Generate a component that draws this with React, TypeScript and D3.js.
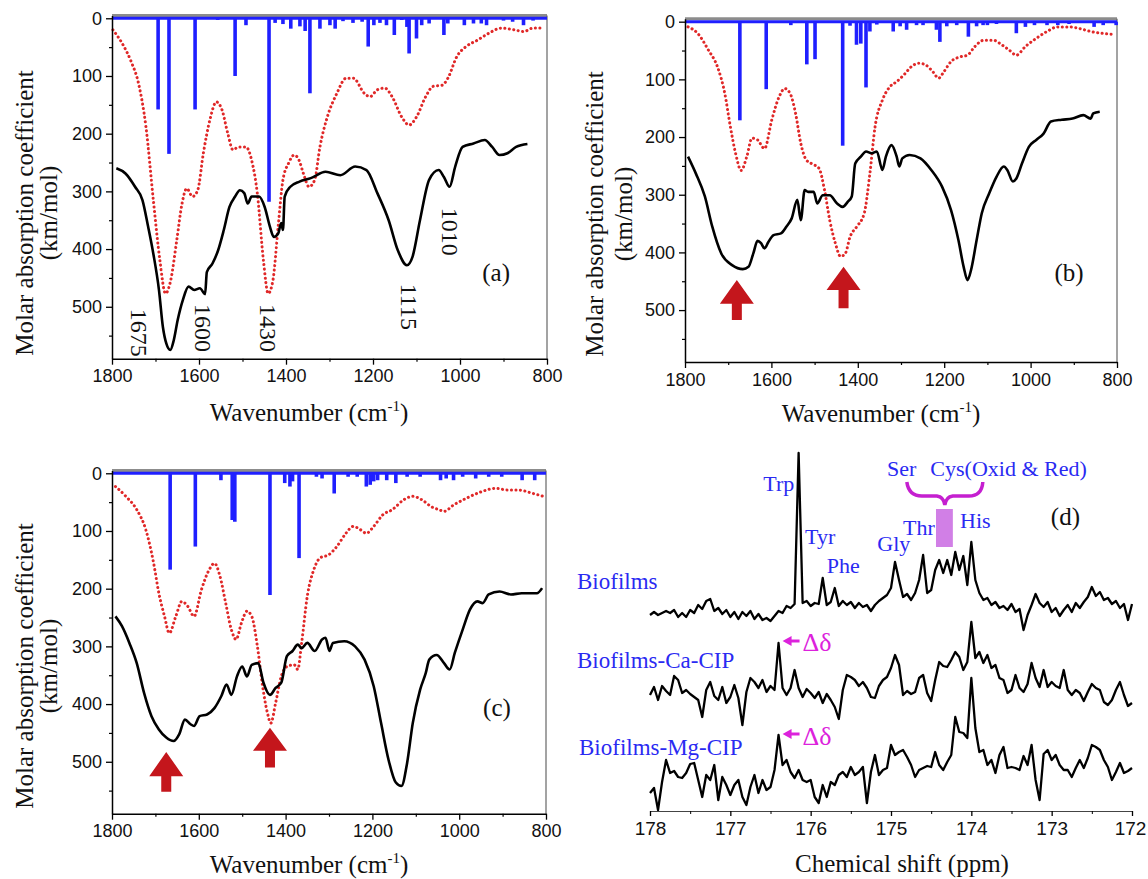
import { useEffect, useRef } from 'react';
import * as d3 from 'd3';

type Pt = [number, number];

// ---------- IR panel (a) : [wavenumber, km/mol] ----------
const aBlack: Pt[] = [[1790,260],[1769,269],[1747,292],[1730,315],[1717,361],[1705,408],[1692,471],[1683,535],[1675,564],[1666,575],[1658,558],[1649,523],[1637,488],[1624,465],[1611,471],[1598,468],[1586,478],[1582,440],[1569,425],[1556,402],[1543,367],[1530,327],[1517,309],[1506,298],[1496,303],[1488,321],[1479,309],[1462,309],[1449,327],[1437,361],[1428,379],[1418,373],[1411,355],[1407,367],[1403,309],[1390,292],[1369,283],[1343,277],[1309,266],[1275,272],[1241,257],[1215,263],[1190,303],[1164,350],[1143,402],[1122,428],[1109,413],[1092,350],[1071,280],[1049,263],[1037,275],[1024,292],[1011,257],[994,223],[969,217],[943,211],[926,223],[909,237],[891,234],[871,223],[845,218]];
const aRed: Pt[] = [[1798,20],[1777,43],[1756,75],[1739,113],[1722,188],[1705,315],[1690,419],[1677,477],[1665,454],[1651,384],[1639,321],[1628,295],[1615,309],[1603,298],[1590,234],[1575,176],[1560,145],[1547,159],[1534,199],[1522,228],[1509,223],[1492,223],[1479,246],[1466,303],[1452,419],[1441,477],[1430,454],[1418,361],[1407,280],[1394,251],[1381,237],[1370,246],[1360,269],[1347,292],[1334,280],[1322,223],[1305,171],[1283,130],[1262,104],[1245,104],[1220,130],[1207,136],[1190,124],[1173,121],[1156,136],[1134,171],[1117,185],[1100,171],[1079,136],[1062,118],[1041,116],[1028,104],[1007,66],[986,49],[960,38],[934,26],[905,17],[875,20],[854,23],[832,17],[807,17]];
const aSticks: Pt[] = [[1694,158],[1669,235],[1609,158],[1557,3],[1517,100],[1492,12],[1439,318],[1425,8],[1407,10],[1389,18],[1368,14],[1356,22],[1345,130],[1322,18],[1299,12],[1287,18],[1269,5],[1246,8],[1225,6],[1211,49],[1198,12],[1184,8],[1169,12],[1151,29],[1134,3],[1122,15],[1117,61],[1100,35],[1088,12],[1071,9],[1037,29],[1028,9],[990,12],[969,9],[951,9],[939,12],[900,4],[879,6],[854,12],[832,4]];
const aPeakLabels = ['1675', '1600', '1430', '1115', '1010'];
const aPeakSpots: Pt[] = [[1738,545],[1591,537],[1441,537],[1117,500],[1021,370]];

// ---------- IR panel (b) ----------
const bBlack: Pt[] = [[1793,234],[1775,263],[1754,303],[1737,355],[1716,402],[1691,422],[1666,429],[1653,425],[1642,402],[1632,380],[1624,384],[1616,393],[1607,382],[1595,370],[1578,367],[1565,355],[1553,341],[1540,309],[1532,344],[1523,292],[1515,295],[1502,295],[1494,315],[1481,301],[1465,301],[1448,315],[1435,321],[1423,312],[1414,303],[1406,246],[1393,234],[1381,225],[1368,228],[1356,225],[1343,257],[1335,234],[1322,214],[1310,234],[1304,251],[1297,237],[1280,231],[1255,237],[1230,257],[1205,286],[1184,327],[1167,379],[1155,425],[1146,448],[1138,431],[1125,379],[1113,332],[1096,298],[1079,269],[1062,251],[1054,257],[1041,277],[1033,272],[1020,246],[1004,217],[987,205],[970,194],[953,173],[928,170],[903,168],[878,162],[861,168],[855,159],[840,156]];
const bRed: Pt[] = [[1793,9],[1771,20],[1746,49],[1725,78],[1708,124],[1695,182],[1683,228],[1670,258],[1657,234],[1645,202],[1632,205],[1616,220],[1599,170],[1582,130],[1569,116],[1557,124],[1544,159],[1532,211],[1519,240],[1507,246],[1490,254],[1477,292],[1465,344],[1452,384],[1440,407],[1429,402],[1418,373],[1402,355],[1385,332],[1372,263],[1360,182],[1343,136],[1326,113],[1310,104],[1293,92],[1276,78],[1259,72],[1243,75],[1226,87],[1213,98],[1201,87],[1184,69],[1163,61],[1146,58],[1129,43],[1108,32],[1087,32],[1067,40],[1050,49],[1033,58],[1012,43],[987,29],[962,17],[937,9],[911,9],[886,12],[861,17],[836,20],[807,22]];
const bSticks: Pt[] = [[1673,171],[1612,117],[1555,6],[1518,74],[1499,65],[1435,215],[1418,7],[1403,40],[1393,38],[1381,114],[1372,17],[1356,5],[1318,17],[1302,8],[1287,14],[1264,6],[1249,6],[1218,14],[1210,35],[1194,8],[1171,6],[1144,26],[1125,8],[1110,6],[1100,6],[1079,4],[1033,20],[1012,9],[991,6],[962,6],[937,6],[911,4],[853,9],[832,6],[802,6]];
// arrows: [wavenumber, tip, head base, tail]
const bArrows: number[][] = [[1680,448,489,517],[1433,425,465,497]];

// ---------- IR panel (c) ----------
const cBlack: Pt[] = [[1792,248],[1777,265],[1760,294],[1743,329],[1726,381],[1709,421],[1692,444],[1675,458],[1658,464],[1645,452],[1632,427],[1619,435],[1611,438],[1598,421],[1581,418],[1564,407],[1548,386],[1536,366],[1525,384],[1512,352],[1500,335],[1489,352],[1478,332],[1463,329],[1451,363],[1436,384],[1423,372],[1410,363],[1397,317],[1384,308],[1372,297],[1363,303],[1350,294],[1333,308],[1316,288],[1308,285],[1299,308],[1291,294],[1265,291],[1240,300],[1218,323],[1197,369],[1180,433],[1163,496],[1146,536],[1133,542],[1120,502],[1107,433],[1090,375],[1077,346],[1069,323],[1052,315],[1035,329],[1022,340],[1010,311],[992,271],[975,236],[958,222],[946,225],[932,210],[907,205],[881,210],[856,208],[821,208],[809,199]];
const cRed: Pt[] = [[1792,23],[1768,40],[1743,63],[1722,98],[1704,156],[1692,208],[1679,248],[1668,277],[1653,248],[1639,222],[1625,231],[1611,248],[1594,202],[1576,167],[1564,156],[1551,179],[1538,225],[1525,271],[1514,288],[1502,260],[1489,239],[1478,248],[1465,300],[1453,369],[1442,415],[1434,433],[1423,398],[1410,352],[1397,335],[1380,332],[1372,340],[1363,294],[1350,213],[1335,167],[1321,147],[1300,141],[1282,127],[1261,104],[1244,92],[1227,98],[1214,104],[1197,92],[1176,72],[1154,63],[1128,46],[1107,40],[1086,46],[1064,58],[1047,63],[1035,66],[1013,55],[983,43],[949,32],[915,26],[890,29],[864,29],[830,35],[806,40]];
const cSticks: Pt[] = [[1666,167],[1608,127],[1549,12],[1523,81],[1517,84],[1436,211],[1402,17],[1390,23],[1384,14],[1369,147],[1329,6],[1316,9],[1288,35],[1256,6],[1235,6],[1214,23],[1205,20],[1197,14],[1188,12],[1167,12],[1146,17],[1120,6],[1090,6],[1043,12],[1030,9],[1013,12],[992,6],[962,9],[932,6],[902,6],[855,12],[826,12]];
const cArrows: number[][] = [[1675,483,525,552],[1436,441,481,510]];

const irTicks = [1800, 1600, 1400, 1200, 1000, 800];
const irMinor = [1700, 1500, 1300, 1100, 900];
const kmTicks = [0, 100, 200, 300, 400, 500];
const kmMinor = [50, 150, 250, 350, 450, 550];

// ---------- 13C NMR panel (d) : intensities (a.u.) sampled every 0.05 ppm from 178 ----------
const nmrPpm = d3.range(121).map(i => +(178 - i * 0.05).toFixed(2));
const biofilms = [0,3,0,2,4,2,5,-2,2,-2, 5,2,10,6,14,16,4,7,1,5, -2,3,-4,3,-1,4,-4,1,-5,-3, -6,-1,4,2,9,7,11,162,12,14, 9,12,11,37,10,13,27,9,14,10, 13,7,12,8,10,4,10,14,17,20, 27,53,35,18,21,15,22,35,60,22, 25,45,55,42,55,40,63,45,59,30, 73,35,22,15,17,10,13,7,9,5, 11,3,6,-15,0,10,21,12,8,13, 3,7,-1,5,10,3,12,7,13,18, 28,19,23,15,17,11,14,7,11,-5, 11];
const biofilmsCa = [-5,3,-10,4,-1,-5,14,10,-3,0, -4,-7,-10,-27,0,8,-6,-10,3,-13, -7,5,-8,-35,-2,12,8,2,10,-2, 4,0,47,2,-5,2,20,2,-7,1, -3,-8,-2,-13,-4,-10,-17,-29,0,15, 13,10,4,8,2,-7,-8,4,10,13, 22,35,25,-5,-1,-4,-2,12,15,-3, -11,10,28,24,23,30,38,33,20,28, 68,32,38,27,35,22,25,12,10,-3, 0,15,2,-2,6,27,12,3,20,3, 8,4,2,20,0,-5,0,-3,-11,-2, 6,2,0,-12,-15,-10,0,8,-5,-16, -13];
const biofilmsMg = [-20,-15,-37,-9,13,0,2,-4,-5,0, 9,10,-7,-24,-2,-7,8,-27,-4,-12, -22,-12,-7,-24,-32,-14,-2,-20,-7,-17, -14,3,38,8,13,1,-5,3,-7,-9, -7,-24,-30,-12,-24,-9,-12,-2,1,-4, 6,-2,1,6,-30,1,18,-2,3,5, 28,18,21,23,16,8,-4,3,5,7, 6,21,8,3,11,18,56,41,40,35, 95,45,21,23,8,13,0,18,26,5, 6,5,3,17,8,28,-7,-27,19,23, 13,18,8,3,3,-4,5,13,5,15, 28,26,23,13,6,-7,1,10,0,2, 5];
const nmrNames = ['Biofilms', 'Biofilms-Ca-CIP', 'Biofilms-Mg-CIP'];
const nmrSeries = [biofilms, biofilmsCa, biofilmsMg];
const nmrStackOffset = [158, 83, 0];
const ppmTicks = [178, 177, 176, 175, 174, 173, 172];
const ppmMinor = [177.5, 176.5, 175.5, 174.5, 173.5, 172.5];
const aminoAcids = ['Trp', 'Tyr', 'Phe', 'Gly', 'Thr', 'His', 'Ser', 'Cys(Oxid & Red)'];
const aminoPpm = [176.59, 176.07, 175.8, 175.17, 174.85, 174.14, 175.05, 174.51];

const SERIF = '"Liberation Serif", "Times New Roman", serif';
const SANS = '"Liberation Sans", Arial, sans-serif';
const BLUE = '#1f1fff';
const LABEL_BLUE = '#2a2af2';
const MAGENTA = '#dc22dc';

function styleAxis(sel, size) {
  sel.attr('font-family', SANS).attr('font-size', size);
  sel.select('.domain').attr('stroke', '#000').attr('stroke-width', 1.5);
  sel.selectAll('.tick line').attr('stroke', '#000').attr('stroke-width', 1.3);
  sel.selectAll('.tick text').attr('fill', '#111');
}

function drawIR(svg, cfg) {
  const x = d3.scaleLinear().domain([1800, 800]).range([cfg.left, cfg.right]);
  const y = d3.scaleLinear().domain([-5, 590]).range([cfg.top, cfg.bottom]);
  const g = svg.append('g');
  const line = d3.line<Pt>().x(d => x(d[0])).y(d => y(d[1])).curve(d3.curveMonotoneX);

  // DFT spectrum (red dots)
  g.append('path')
    .datum(cfg.red)
    .attr('d', line)
    .attr('fill', 'none')
    .attr('stroke', '#e02828')
    .attr('stroke-width', 3)
    .attr('stroke-linecap', 'round')
    .attr('stroke-dasharray', '0.1 4.4');

  // measured spectrum
  g.append('path')
    .datum(cfg.black)
    .attr('d', line)
    .attr('fill', 'none')
    .attr('stroke', '#000')
    .attr('stroke-width', 2.6)
    .attr('stroke-linejoin', 'round');

  // frame top + right
  g.append('line')
    .attr('x1', x(1800)).attr('x2', x(800))
    .attr('y1', y(-5)).attr('y2', y(-5))
    .attr('stroke', '#8c8c8c').attr('stroke-width', 3);
  g.append('line')
    .attr('x1', x(800)).attr('x2', x(800))
    .attr('y1', y(-5)).attr('y2', y(590))
    .attr('stroke', '#666').attr('stroke-width', 1.2);

  // stick spectrum
  g.append('line')
    .attr('x1', x(1800)).attr('x2', x(800))
    .attr('y1', y(0)).attr('y2', y(0))
    .attr('stroke', BLUE).attr('stroke-width', 3);
  g.selectAll('.stick')
    .data(cfg.sticks)
    .join('line')
    .attr('x1', d => x(d[0])).attr('x2', d => x(d[0]))
    .attr('y1', y(0)).attr('y2', d => y(d[1]))
    .attr('stroke', BLUE).attr('stroke-width', 3.6);

  // red arrows
  (cfg.arrows || []).forEach(a => {
    const cx = x(a[0]);
    const pts = [
      [cx, y(a[1])], [cx + 17, y(a[2])], [cx + 5, y(a[2])], [cx + 5, y(a[3])],
      [cx - 5, y(a[3])], [cx - 5, y(a[2])], [cx - 17, y(a[2])],
    ];
    g.append('polygon').attr('points', pts.map(p => p.join(',')).join(' ')).attr('fill', '#c4161c');
  });

  // axes
  const ya = g.append('g').attr('transform', `translate(${cfg.left},0)`)
    .call(d3.axisLeft(y).tickValues(kmTicks).tickFormat(d3.format('d')).tickSize(6).tickSizeOuter(0).tickPadding(4));
  styleAxis(ya, 18);
  const ym = g.append('g').attr('transform', `translate(${cfg.left},0)`)
    .call(d3.axisLeft(y).tickValues(kmMinor).tickSize(3).tickFormat(() => ''));
  ym.select('.domain').remove();
  ym.selectAll('.tick line').attr('stroke', '#000').attr('stroke-width', 1.2);

  const xa = g.append('g').attr('transform', `translate(0,${cfg.bottom})`)
    .call(d3.axisBottom(x).tickValues(irTicks).tickFormat(d3.format('d')).tickSize(6).tickSizeOuter(0).tickPadding(5));
  styleAxis(xa, 18);
  const xm = g.append('g').attr('transform', `translate(0,${cfg.bottom})`)
    .call(d3.axisBottom(x).tickValues(irMinor).tickSize(3).tickFormat(() => ''));
  xm.select('.domain').remove();
  xm.selectAll('.tick line').attr('stroke', '#000').attr('stroke-width', 1.2);

  // titles
  const t = g.append('text')
    .attr('x', cfg.titleX).attr('y', cfg.titleY)
    .attr('text-anchor', 'middle')
    .attr('font-family', SERIF).attr('font-size', 25).attr('fill', '#111');
  t.append('tspan').text('Wavenumber (cm');
  t.append('tspan').attr('font-size', 15).attr('dy', -10).text('-1');
  t.append('tspan').attr('dy', 10).text(')');

  ['Molar absorption coefficient', '(km/mol)'].forEach((s, i) => {
    g.append('text')
      .attr('transform', `translate(${cfg.ylabX[i]},${cfg.ylabY}) rotate(-90)`)
      .attr('text-anchor', 'middle').attr('dy', '0.35em')
      .attr('font-family', SERIF).attr('font-size', 25).attr('fill', '#111')
      .text(s);
  });

  g.append('text')
    .attr('x', x(cfg.tagAt[0])).attr('y', y(cfg.tagAt[1]))
    .attr('text-anchor', 'middle').attr('dy', '0.35em')
    .attr('font-family', SERIF).attr('font-size', 25).attr('fill', '#111')
    .text(cfg.tag);

  (cfg.peakLabels || []).forEach((s, i) => {
    const [wn, v] = cfg.peakSpots[i];
    g.append('text')
      .attr('transform', `translate(${x(wn)},${y(v)}) rotate(90)`)
      .attr('text-anchor', 'middle').attr('dy', '0.35em')
      .attr('font-family', SERIF).attr('font-size', 24).attr('fill', '#111')
      .text(s);
  });
}

function drawNMR(svg) {
  const x = d3.scaleLinear().domain([178, 172]).range([650, 1132]);
  const y = d3.scaleLinear().domain([0, 100]).range([773, 673]);
  const g = svg.append('g');

  nmrSeries.forEach((vals, k) => {
    const line = d3.line<number>()
      .x((d, i) => x(nmrPpm[i]))
      .y(d => y(d + nmrStackOffset[k]));
    g.append('path')
      .datum(vals)
      .attr('d', line)
      .attr('fill', 'none')
      .attr('stroke', '#000')
      .attr('stroke-width', 2.3)
      .attr('stroke-linejoin', 'round');
  });

  const xa = g.append('g').attr('transform', 'translate(0,811)')
    .call(d3.axisBottom(x).tickValues(ppmTicks).tickFormat(d3.format('d')).tickSize(5).tickSizeOuter(0).tickPadding(6));
  styleAxis(xa, 19);
  xa.select('.domain').attr('stroke', '#444').attr('stroke-width', 1.2);
  xa.selectAll('.tick text').filter(d => d === 172).attr('dx', -2);
  const xm = g.append('g').attr('transform', 'translate(0,811)')
    .call(d3.axisBottom(x).tickValues(ppmMinor).tickSize(3).tickFormat(() => ''));
  xm.select('.domain').remove();
  xm.selectAll('.tick line').attr('stroke', '#000');

  g.append('text')
    .attr('x', 902).attr('y', 872)
    .attr('text-anchor', 'middle')
    .attr('font-family', SERIF).attr('font-size', 25).attr('fill', '#111')
    .text('Chemical shift (ppm)');

  // sample names
  [[577, 589], [577, 668], [579, 755]].forEach((p, i) => {
    g.append('text').attr('x', p[0]).attr('y', p[1])
      .attr('font-family', SERIF).attr('font-size', 23).attr('fill', LABEL_BLUE)
      .text(nmrNames[i]);
  });

  // amino-acid assignments
  const aaBaseline = [491, 544, 573, 551, 535, 528, 476, 476];
  aminoAcids.forEach((s, i) => {
    g.append('text').attr('x', x(aminoPpm[i])).attr('y', aaBaseline[i])
      .attr('font-family', SERIF).attr('font-size', 22).attr('fill', LABEL_BLUE)
      .text(s);
  });

  // brace + box for Ser / Cys
  const bx = x(174.33);
  g.append('path')
    .attr('d', `M${bx - 38},482 Q${bx - 36},496 ${bx - 23},496 L${bx - 8},496 Q${bx - 1},497 ${bx},505 Q${bx + 1},497 ${bx + 8},496 L${bx + 24},496 Q${bx + 37},496 ${bx + 38},482`)
    .attr('fill', 'none').attr('stroke', '#c51fd0').attr('stroke-width', 3.5);
  g.append('rect')
    .attr('x', x(174.44)).attr('y', 509)
    .attr('width', x(174.23) - x(174.44)).attr('height', 38)
    .attr('fill', '#d17fe6');

  g.append('text').attr('x', x(173.01)).attr('y', 525)
    .attr('font-family', SERIF).attr('font-size', 25).attr('fill', '#111')
    .text('(d)');

  // chemical-shift change markers
  [[641, 651], [734, 745]].forEach(([ay, ty]) => {
    const ax = x(176.35);
    g.append('polygon')
      .attr('points', `${ax},${ay} ${ax + 9},${ay - 5} ${ax + 9},${ay + 5}`)
      .attr('fill', MAGENTA);
    g.append('line')
      .attr('x1', ax + 8).attr('x2', ax + 17).attr('y1', ay).attr('y2', ay)
      .attr('stroke', MAGENTA).attr('stroke-width', 3);
    g.append('text').attr('x', ax + 20).attr('y', ty)
      .attr('font-family', SERIF).attr('font-size', 26).attr('fill', MAGENTA)
      .text('Δδ');
  });
}

export default function App() {
  const svgRef = useRef(null);

  useEffect(() => {
    const svg = d3.select(svgRef.current);
    svg.selectAll('*').remove();

    drawIR(svg, {
      left: 112, right: 547, top: 15.4, bottom: 358.7,
      black: aBlack, red: aRed, sticks: aSticks,
      tag: '(a)', tagAt: [917, 440],
      titleX: 309, titleY: 421, ylabX: [24, 48], ylabY: 213,
      peakLabels: aPeakLabels, peakSpots: aPeakSpots,
    });
    drawIR(svg, {
      left: 685, right: 1117, top: 18.8, bottom: 362,
      black: bBlack, red: bRed, sticks: bSticks, arrows: bArrows,
      tag: '(b)', tagAt: [911, 434],
      titleX: 881, titleY: 422, ylabX: [594, 623], ylabY: 214,
    });
    drawIR(svg, {
      left: 112, right: 546, top: 470.4, bottom: 813.7,
      black: cBlack, red: cRed, sticks: cSticks, arrows: cArrows,
      tag: '(c)', tagAt: [913, 406],
      titleX: 309, titleY: 873, ylabX: [24, 48], ylabY: 666,
    });
    drawNMR(svg);
  }, []);

  return (
    <svg
      ref={svgRef}
      width="1148"
      height="879"
      style={{ position: 'absolute', left: 0, top: 0, background: '#fff' }}
    ></svg>
  );
}
